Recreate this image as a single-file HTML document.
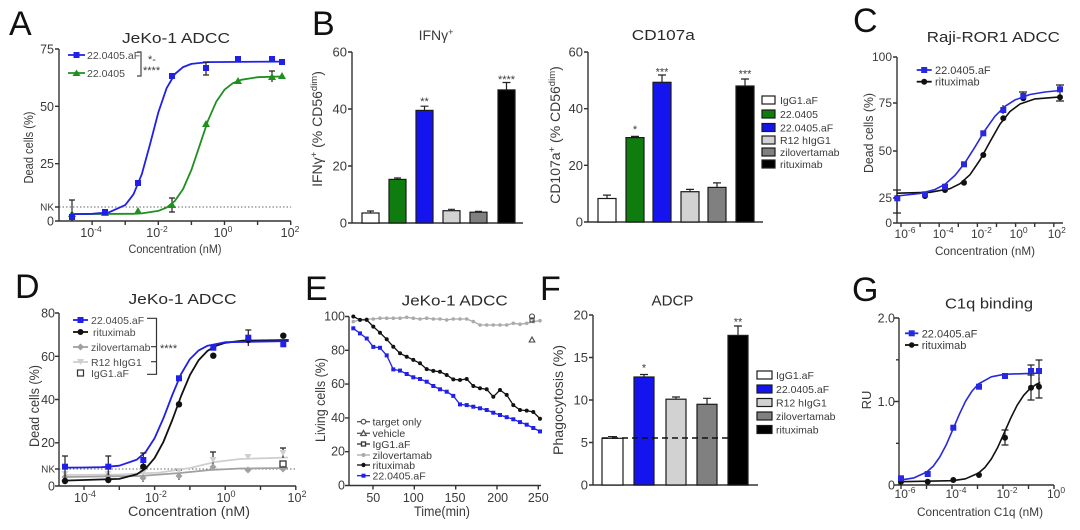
<!DOCTYPE html>
<html><head><meta charset="utf-8">
<style>
html,body{margin:0;padding:0;background:#fff;}
svg{display:block;}
text{font-family:"Liberation Sans",Arial,sans-serif;fill:#3a3a3a;}
.lt{font-size:34px;fill:#111;}
.ti{font-size:15px;fill:#2a2a2a;}
.tk{font-size:12.5px;}
.ax{stroke:#333;stroke-width:1.4;fill:none;}
.lg{font-size:10.5px;fill:#4a4a4a;}
.eb{stroke:#222;stroke-width:1.2;fill:none;}
.bar{stroke:#1a1a1a;stroke-width:1.2;}
</style></head><body>
<svg width="1080" height="530" viewBox="0 0 1080 530" xmlns="http://www.w3.org/2000/svg">
<rect width="1080" height="530" fill="#fff"/>

<!-- ================= PANEL A ================= -->
<text class="lt" x="9" y="35">A</text>
<text class="ti" x="176" y="43" text-anchor="middle" textLength="108" lengthAdjust="spacingAndGlyphs">JeKo-1 ADCC</text>
<line x1="59" y1="207" x2="291" y2="207" stroke="#666" stroke-width="1" stroke-dasharray="1.5,2"/>
<path class="ax" d="M59,49 V221 H291 M55,49 H59 M55,106.3 H59 M55,163.7 H59 M55,207 H59 M55,221 H59 M92.1,221 v4 M125.2,221 v4 M158.3,221 v4 M191.4,221 v4 M224.5,221 v4 M257.6,221 v4 M290.7,221 v4"/>
<g class="tk" text-anchor="end">
<text x="54" y="53.5">75</text><text x="54" y="110.8">50</text><text x="54" y="168.2">25</text>
<text x="54" y="210.5" font-size="10">NK</text><text x="54" y="225.5">0</text>
</g>
<g class="tk" text-anchor="middle" font-size="12">
<text x="91" y="237">10<tspan dy="-5" font-size="8.5">-4</tspan></text>
<text x="157" y="237">10<tspan dy="-5" font-size="8.5">-2</tspan></text>
<text x="223" y="237">10<tspan dy="-5" font-size="8.5">0</tspan></text>
<text x="290" y="237">10<tspan dy="-5" font-size="8.5">2</tspan></text>
</g>
<text x="175" y="253" text-anchor="middle" font-size="11.5" textLength="93" lengthAdjust="spacingAndGlyphs">Concentration (nM)</text>
<text transform="translate(33,147.5) rotate(-90)" text-anchor="middle" font-size="13" textLength="72" lengthAdjust="spacingAndGlyphs">Dead cells (%)</text>
<!-- curves -->
<polyline fill="none" stroke="#1f8f1f" stroke-width="1.8" stroke-linejoin="round" points="72.2,214.1 133.5,213.8 141.8,213.4 158.3,210.9 166.6,207.6 174.9,200.9 183.1,189 191.4,169.9 199.7,145.3 207.9,120.8 216.2,101.8 224.5,89.7 232.8,83.2 241.1,79.8 257.6,77.2 280.8,76.5"/>
<polyline fill="none" stroke="#2020e8" stroke-width="1.8" stroke-linejoin="round" points="72.2,214.1 92.1,213.8 108.7,212.4 125.2,205.1 133.5,194.3 141.8,174.2 150,144.4 158.3,112.5 166.6,88.2 174.9,74 183.1,67.1 191.4,63.9 207.9,62.1 280.8,61.6"/>
<!-- green data -->
<path class="eb" stroke="#1f8f1f" d="M72,200 V221 M69,200 H75 M172,198 V212 M169,198 H175 M169,212 H175 M272,71 V82 M269,71 H275 M206,121 V127"/>
<g fill="#1f8f1f">
<path d="M72,210 l4,7 h-8z"/><path d="M105,209 l4,7 h-8z"/><path d="M138,207 l4,7 h-8z"/><path d="M172,201 l4,7 h-8z"/>
<path d="M206,120 l4,7 h-8z"/><path d="M238,77 l4,7 h-8z"/><path d="M272,73 l4,7 h-8z"/><path d="M282,72 l4,7 h-8z"/>
</g>
<!-- blue data -->
<path class="eb" stroke="#2020e8" d="M206,62 V75 M203,62 H209 M203,75 H209 M72,212 V221"/>
<g fill="#2020e8">
<rect x="69" y="214" width="6" height="6"/><rect x="102" y="209" width="6" height="6"/><rect x="135" y="180" width="6" height="6"/>
<rect x="169" y="73" width="6" height="6"/><rect x="203" y="65" width="6" height="6"/><rect x="235" y="56" width="6" height="6"/>
<rect x="269" y="56" width="6" height="6"/><rect x="279" y="59" width="6" height="6"/>
</g>
<!-- legend A -->
<line x1="68" y1="55" x2="85" y2="55" stroke="#2020e8" stroke-width="1.8"/>
<rect x="73.5" y="52" width="6" height="6" fill="#2020e8"/>
<text class="lg" x="87" y="59">22.0405.aF</text>
<line x1="68" y1="73" x2="85" y2="73" stroke="#1f8f1f" stroke-width="1.8"/>
<path d="M76.5,69.5 L80.5,76 L72.5,76 Z" fill="#1f8f1f"/>
<text class="lg" x="87" y="77">22.0405</text>
<path d="M137,52 H141 V76 H137" stroke="#444" fill="none" stroke-width="1.2"/>
<text x="148" y="63" font-size="11">*-</text>
<text x="143" y="74" font-size="11">****</text>

<!-- ================= PANEL B : IFNg ================= -->
<text class="lt" x="312" y="35">B</text>
<text x="436" y="40" text-anchor="middle" font-size="14" fill="#2a2a2a">IFNγ<tspan dy="-5" font-size="9">+</tspan></text>
<path class="ax" d="M352,52 V223 H523 M348,52 H352 M348,109 H352 M348,166 H352 M348,223 H352"/>
<g font-size="13" text-anchor="end">
<text x="347" y="56.5">60</text><text x="347" y="113.5">40</text><text x="347" y="170.5">20</text><text x="347" y="227.5">0</text>
</g>
<text transform="translate(322,129) rotate(-90)" text-anchor="middle" font-size="14">IFNγ<tspan dy="-5" font-size="9.5">+</tspan><tspan dy="5"> (% CD56</tspan><tspan dy="-5" font-size="9.5">dim</tspan><tspan dy="5">)</tspan></text>
<rect class="bar" x="362" y="213" width="17" height="10" fill="#fff"/>
<rect class="bar" x="389" y="179.4" width="17" height="43.6" fill="#0e7c0e"/>
<rect class="bar" x="416" y="110.4" width="17" height="112.6" fill="#1414ee"/>
<rect class="bar" x="443" y="210.7" width="17" height="12.3" fill="#d2d2d2"/>
<rect class="bar" x="470" y="212.2" width="17" height="10.8" fill="#808080"/>
<rect class="bar" x="498" y="89.9" width="17" height="133.1" fill="#000"/>
<path class="eb" d="M370.5,213 V211 M367,211 H374 M397.5,179.4 V178 M394,178 H401 M424.5,110.4 V106.2 M420.5,106.2 H428.5 M451.5,210.7 V209.3 M448,209.3 H455 M478.5,212.2 V211.4 M475,211.4 H482 M506.5,89.9 V82.5 M502.5,82.5 H510.5"/>
<text x="424.5" y="105" text-anchor="middle" font-size="11">**</text>
<text x="506.5" y="83" text-anchor="middle" font-size="11">****</text>

<!-- ================= PANEL B : CD107a ================= -->
<text class="ti" x="663.3" y="40" text-anchor="middle" textLength="63" lengthAdjust="spacingAndGlyphs">CD107a</text>
<path class="ax" d="M588,52 V222 H763 M584,52 H588 M584,108.7 H588 M584,165.3 H588 M584,222 H588"/>
<g font-size="13" text-anchor="end">
<text x="583" y="56.5">60</text><text x="583" y="113">40</text><text x="583" y="170">20</text><text x="583" y="226.5">0</text>
</g>
<text transform="translate(560,135) rotate(-90)" text-anchor="middle" font-size="14">CD107a<tspan dy="-5" font-size="9.5">+</tspan><tspan dy="5"> (% CD56</tspan><tspan dy="-5" font-size="9.5">dim</tspan><tspan dy="5">)</tspan></text>
<rect class="bar" x="598" y="198.5" width="18" height="23.5" fill="#fff"/>
<rect class="bar" x="626" y="137.6" width="18" height="84.4" fill="#0e7c0e"/>
<rect class="bar" x="653" y="82.3" width="18" height="139.7" fill="#1414ee"/>
<rect class="bar" x="681" y="191.7" width="18" height="30.3" fill="#d2d2d2"/>
<rect class="bar" x="708" y="187.4" width="18" height="34.6" fill="#808080"/>
<rect class="bar" x="736" y="86" width="18" height="136" fill="#000"/>
<path class="eb" d="M607,198.5 V195.1 M603,195.1 H611 M635,137.6 V136.4 M631,136.4 H639 M662,82.3 V75 M658,75 H666 M690,191.7 V189.4 M686,189.4 H694 M717,187.4 V182.9 M713,182.9 H721 M745,86 V79 M741,79 H749"/>
<text x="635" y="133" text-anchor="middle" font-size="11">*</text>
<text x="662" y="75.5" text-anchor="middle" font-size="11">***</text>
<text x="745" y="77.5" text-anchor="middle" font-size="11">***</text>
<!-- legend B -->
<g class="bar">
<rect x="762" y="96" width="13" height="8" fill="#fff"/>
<rect x="762" y="110" width="13" height="8" fill="#0e7c0e"/>
<rect x="762" y="123.5" width="13" height="8" fill="#1414ee"/>
<rect x="762" y="136" width="13" height="8" fill="#d2d2d2"/>
<rect x="762" y="148" width="13" height="8" fill="#808080"/>
<rect x="762" y="160" width="13" height="8" fill="#000"/>
</g>
<g class="lg" font-size="11">
<text x="780" y="104">IgG1.aF</text><text x="780" y="118">22.0405</text><text x="780" y="131.5">22.0405.aF</text>
<text x="780" y="144">R12 hIgG1</text><text x="780" y="156">zilovertamab</text><text x="780" y="168">rituximab</text>
</g>

<!-- ================= PANEL C ================= -->
<text class="lt" x="853" y="32">C</text>
<text class="ti" x="993.3" y="42" text-anchor="middle" textLength="133" lengthAdjust="spacingAndGlyphs">Raji-ROR1 ADCC</text>
<path class="ax" d="M897,57 V223 H1063 M893,57 H897 M893,103 H897 M893,151 H897 M893,198 H897 M893,223 H897 M901,223 v4 M920.1,223 v4 M939.2,223 v4 M958.3,223 v4 M977.4,223 v4 M996.5,223 v4 M1015.6,223 v4 M1034.7,223 v4 M1053.8,223 v4"/>
<g font-size="12" text-anchor="end">
<text x="892" y="61">100</text><text x="892" y="107">75</text><text x="892" y="155">50</text><text x="892" y="202">25</text><text x="892" y="227">0</text>
</g>
<g font-size="12" text-anchor="middle">
<text x="905" y="238">10<tspan dy="-5" font-size="8.5">-6</tspan></text>
<text x="943.2" y="238">10<tspan dy="-5" font-size="8.5">-4</tspan></text>
<text x="981.4" y="238">10<tspan dy="-5" font-size="8.5">-2</tspan></text>
<text x="1018.6" y="238">10<tspan dy="-5" font-size="8.5">0</tspan></text>
<text x="1056.8" y="238">10<tspan dy="-5" font-size="8.5">2</tspan></text>
</g>
<text x="985" y="255" text-anchor="middle" font-size="12" textLength="100" lengthAdjust="spacingAndGlyphs">Concentration (nM)</text>
<text transform="translate(873,133) rotate(-90)" text-anchor="middle" font-size="13" textLength="80" lengthAdjust="spacingAndGlyphs">Dead cells (%)</text>
<polyline fill="none" stroke="#111" stroke-width="1.6" stroke-linejoin="round" points="897,193.2 930,192.3 950,188.7 960,183.7 970,174.7 980,160 990,141.7 1000,124.1 1010,111.5 1020,104 1035,98.9 1060,96.9"/>
<polyline fill="none" stroke="#2828e0" stroke-width="1.6" stroke-linejoin="round" points="897,196 920,193.5 935,189.5 945,184.3 955,175.4 965,162.7 975,146.9 985,130.3 995,116.2 1005,106.3 1015,99.9 1030,94.5 1045,92 1060,90.5"/>
<path class="eb" d="M897,190 V213 M893,190 H901 M893,213 H901 M1060,85 V101 M1056,85 H1064 M1056,101 H1064 M1023,92 V100 M1019,92 H1027 M1003,105 V114"/>
<g fill="#111">
<circle cx="897" cy="198" r="3"/><circle cx="925" cy="196" r="3"/><circle cx="945" cy="190" r="3"/><circle cx="964" cy="182.7" r="3"/>
<circle cx="983.3" cy="155" r="3"/><circle cx="1003.3" cy="118.3" r="3"/><circle cx="1023.3" cy="98.3" r="3"/><circle cx="1060" cy="97.3" r="3"/>
</g>
<g fill="#2828e0">
<rect x="894.3" y="195.3" width="6" height="6"/><rect x="922" y="191.3" width="6" height="6"/><rect x="942" y="183.7" width="6" height="6"/>
<rect x="961" y="161.3" width="6" height="6"/><rect x="980.3" y="130.3" width="6" height="6"/><rect x="1000.3" y="107" width="6" height="6"/>
<rect x="1020.3" y="93" width="6" height="6"/><rect x="1057" y="86.3" width="6" height="6"/>
</g>
<line x1="916.7" y1="70" x2="931.7" y2="70" stroke="#2828e0" stroke-width="1.8"/>
<rect x="921.2" y="67" width="6" height="6" fill="#2828e0"/>
<text x="935" y="74" font-size="11" fill="#4a4a4a">22.0405.aF</text>
<line x1="916.7" y1="81.7" x2="931.7" y2="81.7" stroke="#111" stroke-width="1.8"/>
<circle cx="924.2" cy="81.7" r="3" fill="#111"/>
<text x="935" y="85.7" font-size="11" fill="#4a4a4a">rituximab</text>

<!-- ================= PANEL D ================= -->
<text class="lt" x="15" y="298">D</text>
<text class="ti" x="182.5" y="304" text-anchor="middle" textLength="108" lengthAdjust="spacingAndGlyphs">JeKo-1 ADCC</text>
<line x1="59" y1="469" x2="296" y2="469" stroke="#666" stroke-width="1" stroke-dasharray="1.5,2"/>
<path class="ax" d="M59,313 V486 H296 M55,313 H59 M55,356.3 H59 M55,399.5 H59 M55,442.8 H59 M55,469 H59 M55,486 H59 M84,486 v4 M119.3,486 v4 M154.6,486 v4 M189.9,486 v4 M225.2,486 v4 M260.5,486 v4 M295.8,486 v4"/>
<g class="tk" text-anchor="end">
<text x="55" y="317.5">80</text><text x="55" y="360.8">60</text><text x="55" y="404">40</text><text x="55" y="447.2">20</text>
<text x="55" y="472.5" font-size="10">NK</text><text x="55" y="490.5">0</text>
</g>
<g class="tk" text-anchor="middle" font-size="12.5">
<text x="85" y="502">10<tspan dy="-5" font-size="9">-4</tspan></text>
<text x="156" y="502">10<tspan dy="-5" font-size="9">-2</tspan></text>
<text x="226" y="502">10<tspan dy="-5" font-size="9">0</tspan></text>
<text x="297" y="502">10<tspan dy="-5" font-size="9">2</tspan></text>
</g>
<text x="189" y="516" text-anchor="middle" font-size="14" textLength="122" lengthAdjust="spacingAndGlyphs">Concentration (nM)</text>
<text transform="translate(39,406) rotate(-90)" text-anchor="middle" font-size="14" textLength="82" lengthAdjust="spacingAndGlyphs">Dead cells (%)</text>
<!-- gray curves -->
<polyline fill="none" stroke="#cfcfcf" stroke-width="1.8" points="65,475 120,474.5 160,472.5 190,468 215,462 240,459 288,457.5"/>
<polyline fill="none" stroke="#a0a0a0" stroke-width="1.8" points="65,477 140,476 180,473 210,470 240,468.5 288,468"/>
<path class="eb" stroke="#cfcfcf" d="M213,452 V468 M210,452 H216 M283,448 V458 M280,448 H286 M143,468 V478"/>
<path class="eb" stroke="#a0a0a0" d="M179,470 V480 M176,470 H182 M143,472 V482"/>
<g fill="#cfcfcf">
<path d="M65,477 l3.5,-6 h-7z"/><path d="M108,477 l3.5,-6 h-7z"/><path d="M143,476 l3.5,-6 h-7z"/><path d="M179,474 l3.5,-6 h-7z"/>
<path d="M213,463 l3.5,-6 h-7z"/><path d="M248,460 l3.5,-6 h-7z"/><path d="M283,456 l3.5,-6 h-7z"/>
</g>
<g fill="#a0a0a0">
<path d="M65,473.5 l3.5,3.5 l-3.5,3.5 l-3.5,-3.5z"/><path d="M108,472.5 l3.5,3.5 l-3.5,3.5 l-3.5,-3.5z"/><path d="M143,474.5 l3.5,3.5 l-3.5,3.5 l-3.5,-3.5z"/>
<path d="M179,472.5 l3.5,3.5 l-3.5,3.5 l-3.5,-3.5z"/><path d="M213,463.5 l3.5,3.5 l-3.5,3.5 l-3.5,-3.5z"/><path d="M248,466.5 l3.5,3.5 l-3.5,3.5 l-3.5,-3.5z"/><path d="M283,465.5 l3.5,3.5 l-3.5,3.5 l-3.5,-3.5z"/>
</g>
<rect x="280" y="461" width="6" height="6" fill="none" stroke="#333" stroke-width="1.3"/>
<!-- black & blue -->
<polyline fill="none" stroke="#111" stroke-width="1.8" stroke-linejoin="round" points="64.6,480.6 119.3,478.9 136.9,474.2 145.8,468.4 154.6,458.1 163.4,441.9 172.3,420 181.1,396 189.9,375.1 198.7,360.1 207.6,350.8 216.4,345.7 225.2,342.8 242.9,340.7 288.7,340"/>
<polyline fill="none" stroke="#2020e8" stroke-width="1.8" stroke-linejoin="round" points="64.6,467.6 84,467.5 101.7,467.2 119.3,465.7 136.9,459.6 145.8,451.8 154.6,438.2 163.4,418.3 172.3,395 181.1,374 189.9,359.1 198.7,350.4 207.6,345.7 225.2,342.2 288.7,341.1"/>
<path class="eb" stroke="#2020e8" d="M65,456 V478 M62,456 H68 M108.3,456 V475 M105.3,456 H111.3 M143.3,453 V468 M140.3,453 H146.3 M248.3,330 V346 M245.3,330 H251.3"/>
<g fill="#111">
<circle cx="65" cy="481" r="3.2"/><circle cx="108.3" cy="480" r="3.2"/><circle cx="143.3" cy="466.7" r="3.2"/><circle cx="179" cy="404.3" r="3.2"/>
<circle cx="213.3" cy="355.7" r="3.2"/><circle cx="248.3" cy="340" r="3.2"/><circle cx="283.3" cy="335.7" r="3.2"/>
</g>
<g fill="#2020e8">
<rect x="62" y="463.7" width="6" height="6"/><rect x="105.3" y="463.7" width="6" height="6"/><rect x="140.3" y="457" width="6" height="6"/>
<rect x="176" y="375.3" width="6" height="6"/><rect x="210.3" y="344.7" width="6" height="6"/><rect x="245.3" y="334.7" width="6" height="6"/><rect x="280.3" y="341.3" width="6" height="6"/>
</g>
<!-- legend D -->
<line x1="73" y1="320" x2="88" y2="320" stroke="#2020e8" stroke-width="1.8"/>
<rect x="77.5" y="317" width="6" height="6" fill="#2020e8"/>
<text class="lg" x="91" y="324">22.0405.aF</text>
<line x1="73" y1="332" x2="88" y2="332" stroke="#111" stroke-width="1.8"/>
<circle cx="80.5" cy="332" r="3" fill="#111"/>
<text class="lg" x="93" y="336">rituximab</text>
<line x1="73" y1="347" x2="88" y2="347" stroke="#a0a0a0" stroke-width="1.8"/>
<path d="M80.5,343.5 l3.5,3.5 l-3.5,3.5 l-3.5,-3.5z" fill="#a0a0a0"/>
<text class="lg" x="91" y="351">zilovertamab</text>
<line x1="73" y1="362" x2="88" y2="362" stroke="#cfcfcf" stroke-width="1.8"/>
<path d="M80.5,365 l3.5,-6 h-7z" fill="#cfcfcf"/>
<text class="lg" x="91" y="366">R12 hIgG1</text>
<rect x="77.5" y="370" width="6" height="6" fill="none" stroke="#333" stroke-width="1.2"/>
<text class="lg" x="91" y="377" fill="#777">IgG1.aF</text>
<path d="M147,318.3 H156.5 V374.3 H147 M151,346.7 H156.5 M151,361.7 H156.5" stroke="#333" fill="none" stroke-width="1.2"/>
<text x="160" y="352" font-size="11">****</text>

<!-- ================= PANEL E ================= -->
<text class="lt" x="305" y="300">E</text>
<text class="ti" x="454.7" y="305.5" text-anchor="middle" textLength="106" lengthAdjust="spacingAndGlyphs">JeKo-1 ADCC</text>
<path class="ax" d="M349,316.5 V485.5 H541 M345,316.5 H349 M345,350.3 H349 M345,384.1 H349 M345,417.9 H349 M345,451.7 H349 M345,485.5 H349 M373,485.5 v4 M414.3,485.5 v4 M455.7,485.5 v4 M497,485.5 v4 M538.3,485.5 v4"/>
<g font-size="12.5" text-anchor="end">
<text x="345" y="320.5">100</text><text x="345" y="354.3">80</text><text x="345" y="388.1">60</text>
<text x="345" y="421.9">40</text><text x="345" y="455.7">20</text><text x="345" y="489.5">0</text>
</g>
<g font-size="12.5" text-anchor="middle">
<text x="373.3" y="502">50</text><text x="413.3" y="502">100</text><text x="455" y="502">150</text><text x="497.7" y="502">200</text><text x="538.3" y="502">250</text>
</g>
<text x="442" y="516" text-anchor="middle" font-size="14" textLength="56" lengthAdjust="spacingAndGlyphs">Time(min)</text>
<text transform="translate(325,400) rotate(-90)" text-anchor="middle" font-size="14" textLength="84" lengthAdjust="spacingAndGlyphs">Living cells (%)</text>
<!-- series -->
<polyline fill="none" stroke="#aaa" stroke-width="1.3" points="353.3,321.6 360,319.9 366.7,319 373.3,319 380,318.2 386.7,318.2 393.3,318.2 400,318.2 406.7,317.3 413.3,318.2 420,319 426.7,318.2 433.3,319 440,319 446.7,319.9 453.3,319 460,319 466.7,319 473.3,321.6 480,325 486.7,325 493.3,325 500,325 506.7,325 513.3,323.3 520,324.2 526.7,323.3 533.3,321.6 540,320.7"/>
<g fill="#aaa">
<circle cx="353.3" cy="321.6" r="1.8"/><circle cx="360" cy="319.9" r="1.8"/><circle cx="366.7" cy="319" r="1.8"/><circle cx="373.3" cy="319" r="1.8"/><circle cx="380" cy="318.2" r="1.8"/><circle cx="386.7" cy="318.2" r="1.8"/><circle cx="393.3" cy="318.2" r="1.8"/><circle cx="400" cy="318.2" r="1.8"/><circle cx="406.7" cy="317.3" r="1.8"/><circle cx="413.3" cy="318.2" r="1.8"/><circle cx="420" cy="319" r="1.8"/><circle cx="426.7" cy="318.2" r="1.8"/><circle cx="433.3" cy="319" r="1.8"/><circle cx="440" cy="319" r="1.8"/><circle cx="446.7" cy="319.9" r="1.8"/><circle cx="453.3" cy="319" r="1.8"/><circle cx="460" cy="319" r="1.8"/><circle cx="466.7" cy="319" r="1.8"/><circle cx="473.3" cy="321.6" r="1.8"/><circle cx="480" cy="325" r="1.8"/><circle cx="486.7" cy="325" r="1.8"/><circle cx="493.3" cy="325" r="1.8"/><circle cx="500" cy="325" r="1.8"/><circle cx="506.7" cy="325" r="1.8"/><circle cx="513.3" cy="323.3" r="1.8"/><circle cx="520" cy="324.2" r="1.8"/><circle cx="526.7" cy="323.3" r="1.8"/><circle cx="533.3" cy="321.6" r="1.8"/><circle cx="540" cy="320.7" r="1.8"/>
</g>
<polyline fill="none" stroke="#111" stroke-width="1.3" points="353.3,316.5 360,319.9 366.7,319.9 373.3,326.6 380,332.7 386.7,339.3 393.3,346.7 400,353.3 406.7,356.7 413.3,359.9 420,363.3 426.7,369.1 433.3,370.9 440,371.8 446.7,375 453.3,379.4 460,380 466.7,379 473.3,386 480,388.3 486.7,389.3 493.3,396.8 500,390 506.7,394.9 513.3,405.1 520,410 526.7,410.6 533.3,412 540,418.7"/>
<g fill="#111">
<circle cx="353.3" cy="316.5" r="2"/><circle cx="360" cy="319.9" r="2"/><circle cx="366.7" cy="319.9" r="2"/><circle cx="373.3" cy="326.6" r="2"/><circle cx="380" cy="332.7" r="2"/><circle cx="386.7" cy="339.3" r="2"/><circle cx="393.3" cy="346.7" r="2"/><circle cx="400" cy="353.3" r="2"/><circle cx="406.7" cy="356.7" r="2"/><circle cx="413.3" cy="359.9" r="2"/><circle cx="420" cy="363.3" r="2"/><circle cx="426.7" cy="369.1" r="2"/><circle cx="433.3" cy="370.9" r="2"/><circle cx="440" cy="371.8" r="2"/><circle cx="446.7" cy="375" r="2"/><circle cx="453.3" cy="379.4" r="2"/><circle cx="460" cy="380" r="2"/><circle cx="466.7" cy="379" r="2"/><circle cx="473.3" cy="386" r="2"/><circle cx="480" cy="388.3" r="2"/><circle cx="486.7" cy="389.3" r="2"/><circle cx="493.3" cy="396.8" r="2"/><circle cx="500" cy="390" r="2"/><circle cx="506.7" cy="394.9" r="2"/><circle cx="513.3" cy="405.1" r="2"/><circle cx="520" cy="410" r="2"/><circle cx="526.7" cy="410.6" r="2"/><circle cx="533.3" cy="412" r="2"/><circle cx="540" cy="418.7" r="2"/>
</g>
<polyline fill="none" stroke="#2020e8" stroke-width="1.3" points="353.3,328.3 360,333.4 366.7,338.5 373.3,346.9 380,347.8 386.7,355.4 393.3,369.4 400,370.6 406.7,374 413.3,377.3 420,379 426.7,381.7 433.3,386 440,389.3 446.7,391.7 453.3,395.9 460,404.4 466.7,405.1 473.3,406.7 480,408.3 486.7,410 493.3,412.7 500,415 506.7,417.2 513.3,419.3 520,422.1 526.7,424.7 533.3,428 540,431.4"/>
<g fill="#2020e8">
<rect x="351.3" y="326.3" width="4" height="4"/><rect x="358" y="331.4" width="4" height="4"/><rect x="364.7" y="336.5" width="4" height="4"/><rect x="371.3" y="344.9" width="4" height="4"/><rect x="378" y="345.8" width="4" height="4"/><rect x="384.7" y="353.4" width="4" height="4"/><rect x="391.3" y="367.4" width="4" height="4"/><rect x="398" y="368.6" width="4" height="4"/><rect x="404.7" y="372" width="4" height="4"/><rect x="411.3" y="375.3" width="4" height="4"/><rect x="418" y="377" width="4" height="4"/><rect x="424.7" y="379.7" width="4" height="4"/><rect x="431.3" y="384" width="4" height="4"/><rect x="438" y="387.3" width="4" height="4"/><rect x="444.7" y="389.7" width="4" height="4"/><rect x="451.3" y="393.9" width="4" height="4"/><rect x="458" y="402.4" width="4" height="4"/><rect x="464.7" y="403.1" width="4" height="4"/><rect x="471.3" y="404.7" width="4" height="4"/><rect x="478" y="406.3" width="4" height="4"/><rect x="484.7" y="408" width="4" height="4"/><rect x="491.3" y="410.7" width="4" height="4"/><rect x="498" y="413" width="4" height="4"/><rect x="504.7" y="415.2" width="4" height="4"/><rect x="511.3" y="417.3" width="4" height="4"/><rect x="518" y="420.1" width="4" height="4"/><rect x="524.7" y="422.7" width="4" height="4"/><rect x="531.3" y="426" width="4" height="4"/><rect x="538" y="429.4" width="4" height="4"/>
</g>
<!-- right side controls -->
<circle cx="532" cy="316.5" r="2.5" fill="none" stroke="#444" stroke-width="1.1"/>
<rect x="530" y="318" width="4" height="4" fill="none" stroke="#444" stroke-width="1.1"/>
<path d="M532,337 l2.8,5 h-5.6z" fill="none" stroke="#444" stroke-width="1.1"/>
<!-- legend E -->
<g stroke-width="1.3">
<line x1="357" y1="421.7" x2="370" y2="421.7" stroke="#555"/><circle cx="363.5" cy="421.7" r="2.3" fill="#fff" stroke="#555"/>
<line x1="357" y1="433.3" x2="370" y2="433.3" stroke="#555"/><path d="M363.5,430.5 l2.8,5 h-5.6z" fill="#fff" stroke="#555"/>
<line x1="357" y1="444" x2="370" y2="444" stroke="#333"/><rect x="361.5" y="442" width="4" height="4" fill="#fff" stroke="#333"/>
<line x1="357" y1="455" x2="370" y2="455" stroke="#aaa"/><circle cx="363.5" cy="455" r="2" fill="#aaa"/>
<line x1="357" y1="465" x2="370" y2="465" stroke="#111"/><circle cx="363.5" cy="465" r="2.2" fill="#111"/>
<line x1="357" y1="475.7" x2="370" y2="475.7" stroke="#2020e8"/><rect x="361.5" y="473.7" width="4" height="4" fill="#2020e8"/>
</g>
<g class="lg" font-size="11">
<text x="372.5" y="425.5">target only</text><text x="372.5" y="437">vehicle</text><text x="372.5" y="448">IgG1.aF</text>
<text x="372.5" y="459" fill="#888">zilovertamab</text><text x="372.5" y="469">rituximab</text><text x="372.5" y="479.5">22.0405.aF</text>
</g>

<!-- ================= PANEL F ================= -->
<text class="lt" x="540" y="300">F</text>
<text class="ti" x="672.5" y="305.5" text-anchor="middle" textLength="42" lengthAdjust="spacingAndGlyphs">ADCP</text>
<path class="ax" d="M593,315 V485 H758 M589,315 H593 M589,357.5 H593 M589,400 H593 M589,442.5 H593 M589,485 H593"/>
<g font-size="13" text-anchor="end">
<text x="588" y="319.5">20</text><text x="588" y="362">15</text><text x="588" y="404.5">10</text><text x="588" y="447">5</text><text x="588" y="489.5">0</text>
</g>
<text transform="translate(563,400) rotate(-90)" text-anchor="middle" font-size="14" textLength="110" lengthAdjust="spacingAndGlyphs">Phagocytosis (%)</text>
<rect class="bar" x="602" y="438.3" width="21" height="46.7" fill="#fff"/>
<rect class="bar" x="634" y="377" width="20" height="108" fill="#1414ee"/>
<rect class="bar" x="666" y="399.2" width="20" height="85.8" fill="#d2d2d2"/>
<rect class="bar" x="697" y="404.3" width="20" height="80.7" fill="#808080"/>
<rect class="bar" x="728" y="335.4" width="20" height="149.6" fill="#000"/>
<path class="eb" d="M612.5,438.3 V436.6 M608,436.6 H617 M644,377 V374.5 M640,374.5 H648 M676,399.2 V397 M672,397 H680 M707,404.3 V398.3 M703,398.3 H711 M738,335.4 V326 M734,326 H742"/>
<line x1="602" y1="438" x2="728" y2="438" stroke="#111" stroke-width="1.6" stroke-dasharray="6,4"/>
<text x="644" y="371.5" text-anchor="middle" font-size="11">*</text>
<text x="738" y="325.5" text-anchor="middle" font-size="11">**</text>
<g class="bar">
<rect x="757" y="371" width="15" height="8" fill="#fff"/>
<rect x="757" y="385" width="15" height="8" fill="#1414ee"/>
<rect x="757" y="398.5" width="15" height="8" fill="#d2d2d2"/>
<rect x="757" y="412" width="15" height="8" fill="#808080"/>
<rect x="757" y="425.5" width="15" height="8" fill="#000"/>
</g>
<g class="lg" font-size="11.5">
<text x="776" y="379">IgG1.aF</text><text x="776" y="393">22.0405.aF</text><text x="776" y="406.5">R12 hIgG1</text>
<text x="776" y="420">zilovertamab</text><text x="776" y="433.5">rituximab</text>
</g>

<!-- ================= PANEL G ================= -->
<text class="lt" x="852" y="301">G</text>
<text class="ti" x="989" y="308.3" text-anchor="middle" textLength="88" lengthAdjust="spacingAndGlyphs">C1q binding</text>
<path class="ax" d="M899,318 V485 H1054 M894,318 H899 M896,359.8 H899 M894,401.5 H899 M896,443.3 H899 M894,485 H899 M901,485 v4 M926.5,485 v4 M952,485 v4 M977.5,485 v4 M1003,485 v4 M1028.5,485 v4 M1054,485 v4"/>
<g font-size="12.5" text-anchor="end">
<text x="895" y="322.5">2.0</text><text x="895" y="406">1.0</text><text x="895" y="489.5">0</text>
</g>
<g font-size="12" text-anchor="middle">
<text x="905" y="498">10<tspan dy="-5" font-size="8.5">-6</tspan></text>
<text x="956" y="498">10<tspan dy="-5" font-size="8.5">-4</tspan></text>
<text x="1007" y="498">10<tspan dy="-5" font-size="8.5">-2</tspan></text>
<text x="1056" y="498">10<tspan dy="-5" font-size="8.5">0</tspan></text>
</g>
<text x="980" y="516" text-anchor="middle" font-size="12" textLength="126" lengthAdjust="spacingAndGlyphs">Concentration C1q (nM)</text>
<text transform="translate(871,400) rotate(-90)" text-anchor="middle" font-size="13">RU</text>
<polyline fill="none" stroke="#111" stroke-width="1.6" stroke-linejoin="round" points="901,481.7 952.6,480.7 965.5,478.8 978.4,473.1 984.9,467.5 991.3,459 997.8,447.2 1004.2,432.9 1010.7,418.2 1017.1,405.3 1023.6,395.4 1030,388.6 1036.5,384.2 1040.3,382.5"/>
<polyline fill="none" stroke="#2828e0" stroke-width="1.6" stroke-linejoin="round" points="901,479.9 913.9,477.9 926.8,472 933.3,466.1 939.7,457.1 946.2,444.9 952.6,430.1 959.1,414.8 965.5,401.3 972,391.1 978.4,384 991.3,376.8 1004.2,374.3 1030,373.4 1040.3,373.1"/>
<path class="eb" d="M1005,430 V445 M1001.5,430 H1008.5 M1001.5,445 H1008.5 M1031,375 V400 M1027.5,375 H1034.5 M1027.5,400 H1034.5 M1039,378 V398 M1035.5,398 H1042.5"/>
<path class="eb" stroke="#2828e0" d="M1031,365 V378 M1027.5,365 H1034.5 M1039,360 V380 M1035.5,360 H1042.5"/>
<g fill="#111">
<circle cx="901" cy="481.7" r="3"/><circle cx="927.7" cy="481.7" r="3"/><circle cx="953.3" cy="480" r="3"/><circle cx="979" cy="475" r="3"/>
<circle cx="1005" cy="437.7" r="3"/><circle cx="1031" cy="387.7" r="3"/><circle cx="1039" cy="386.7" r="3"/>
</g>
<g fill="#2828e0">
<rect x="898" y="475.3" width="6" height="6"/><rect x="924.7" y="471" width="6" height="6"/><rect x="950.3" y="424.7" width="6" height="6"/>
<rect x="976" y="383.7" width="6" height="6"/><rect x="1002" y="373" width="6" height="6"/><rect x="1028" y="368" width="6" height="6"/><rect x="1036" y="368" width="6" height="6"/>
</g>
<line x1="905" y1="333.3" x2="918.3" y2="333.3" stroke="#2828e0" stroke-width="1.8"/>
<rect x="908.7" y="330.3" width="6" height="6" fill="#2828e0"/>
<text x="921.7" y="337.3" font-size="11" fill="#4a4a4a">22.0405.aF</text>
<line x1="905" y1="345" x2="918.3" y2="345" stroke="#111" stroke-width="1.8"/>
<circle cx="911.7" cy="345" r="2.8" fill="#111"/>
<text x="921.7" y="349" font-size="11" fill="#4a4a4a">rituximab</text>
</svg>
</body></html>
